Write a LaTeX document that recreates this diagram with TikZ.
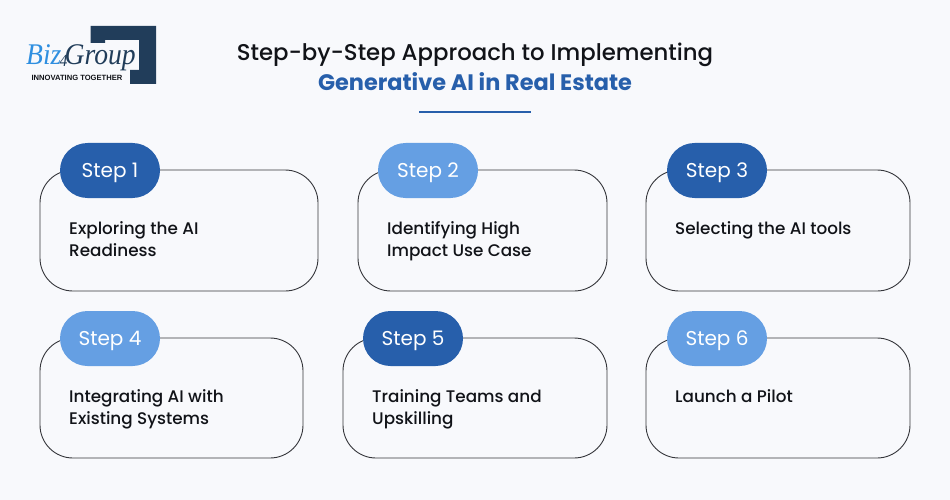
\documentclass[tikz,border=0pt]{standalone}
\usepackage{fontspec}
\setmainfont{Poppins}
\newfontfamily\medfont{Poppins Medium}
\newfontfamily\logofont{Liberation Serif}
\newfontfamily\tagfont{Liberation Sans}
\definecolor{bgc}{HTML}{F8F9FC}
\definecolor{darkb}{HTML}{275FAB}
\definecolor{lightb}{HTML}{659FE3}
\definecolor{navy}{HTML}{213D5A}
\definecolor{logob}{HTML}{2F8FE0}
\definecolor{ink}{HTML}{111318}
\newcommand{\steplabel}[1]{\raisebox{-6.8pt}[0pt][0pt]{#1}}
\tikzset{
 cardbox/.style={draw=ink!85,line width=0.9pt,rounded corners=33pt,inner sep=0pt},
 pill/.style={rounded corners=27.5pt,minimum width=100pt,minimum height=55pt,inner sep=0pt,text=white,font=\fontsize{20}{24}\selectfont},
 body/.style={anchor=base west,align=left,inner sep=0pt,text=ink,font=\medfont\fontsize{16.8}{22}\selectfont},
}
\begin{document}
\begin{tikzpicture}[x=1pt,y=-1pt]
\useasboundingbox[fill=bgc] (0,0) rectangle (950,500);
% logo
\fill[navy] (90.6,26) -- (156,26) -- (156,84) -- (130,84) -- (130,70) -- (139,70) -- (139,40) -- (105,40) -- (105,43) -- (90.6,43) -- cycle;
\node[anchor=base west,inner sep=0pt,font=\logofont\itshape\fontsize{30}{30}\selectfont] (logotext) at (26,65) {\scalebox{0.92}[1]{\textcolor{logob}{Biz}\kern-2pt\raisebox{-2pt}[0pt][0pt]{\fontsize{17}{17}\selectfont\textcolor{navy}{4}}\kern-3pt\textcolor{navy}{Group}}};
\node[inner sep=0pt,text=ink,font=\tagfont\bfseries\fontsize{7.6}{9}\selectfont] (tagline) at (77,78) {INNOVATING TOGETHER};
% title
\node[inner sep=0pt,text=ink,font=\medfont\fontsize{22.8}{28}\selectfont] (title1) at (475,55) {Step-by-Step Approach to Implementing};
\node[inner sep=0pt,text=darkb,font=\bfseries\fontsize{22.4}{28}\selectfont] (title2) at (475,82) {Generative AI in Real Estate};
\fill[darkb] (419,111.2) rectangle (531,113);
% cards
\draw[cardbox] (40,170) rectangle (318,291);
\draw[cardbox] (358,170) rectangle (607,291);
\draw[cardbox] (646,170) rectangle (910,291);
\draw[cardbox] (40,338) rectangle (303,458);
\draw[cardbox] (343,338) rectangle (607,458);
\draw[cardbox] (646,338) rectangle (910,458);
% pills
\node[pill,fill=darkb] (s1) at (110,170.5) {\steplabel{Step 1}};
\node[pill,fill=lightb] (s2) at (428,170.5) {\steplabel{Step 2}};
\node[pill,fill=darkb] (s3) at (717,170.5) {\steplabel{Step 3}};
\node[pill,fill=lightb] (s4) at (110,338.5) {\steplabel{Step 4}};
\node[pill,fill=darkb] (s5) at (413,338.5) {\steplabel{Step 5}};
\node[pill,fill=lightb] (s6) at (717,338.5) {\steplabel{Step 6}};
% texts
\node[body] (t1) at (69,256) {Exploring the AI\\Readiness};
\node[body] (t2) at (387,256) {Identifying High\\Impact Use Case};
\node[body] (t3) at (675,234) {Selecting the AI tools};
\node[body] (t4) at (69,424) {Integrating AI with\\Existing Systems};
\node[body] (t5) at (372,424) {Training Teams and\\Upskilling};
\node[body] (t6) at (675,402) {Launch a Pilot};
\end{tikzpicture}
\end{document}
